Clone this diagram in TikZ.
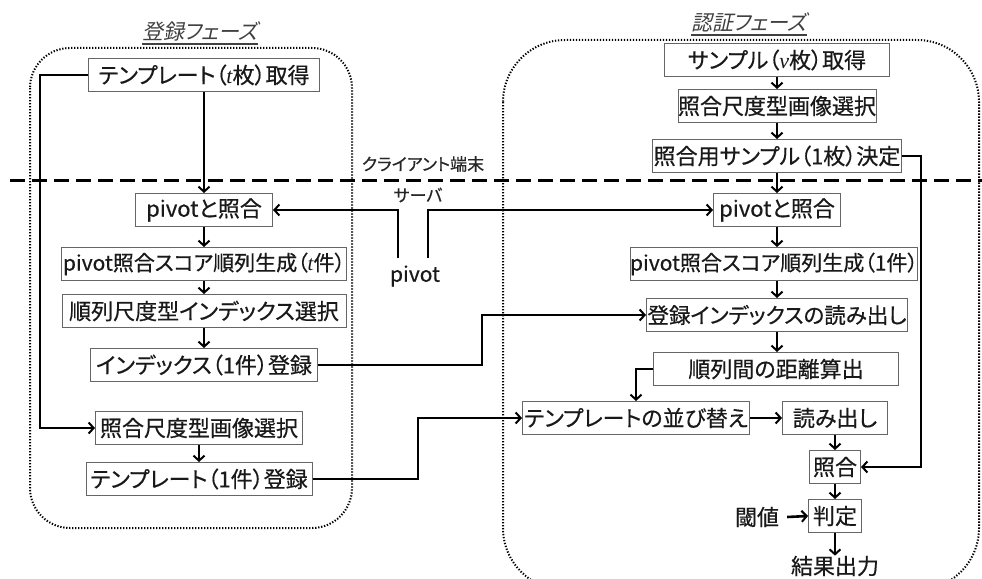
\documentclass[tikz,border=0pt]{standalone}
\usepackage{fontspec}
\setmainfont{Noto Sans CJK JP}[RawFeature=+palt,FakeBold=0.5]
\newfontfamily\jpit{Noto Sans CJK JP}[FakeSlant=0.22,RawFeature=+palt]
\newfontfamily\tms{Liberation Serif}
\usetikzlibrary{arrows.meta}
\newcommand{\vt}[1]{{\tms\itshape #1}}
\begin{document}
\begin{tikzpicture}[x=1pt,y=-1pt,
  box/.style={draw=black!60, line width=1pt, minimum height=33pt, inner sep=0pt, fill=white, text=black!90, font=\fontsize{22}{24}\selectfont},
  lbl/.style={inner sep=0pt, text=black!90, font=\fontsize{22}{24}\selectfont},
  small/.style={inner sep=0pt, text=black!85, font=\fontsize{17}{20}\selectfont},
  ttl/.style={inner sep=0pt, text=black!75, font=\jpit\fontsize{21}{24}\selectfont},
  arr/.style={line width=2.6pt, -{Straight Barb[length=5pt,width=11pt,line width=2pt]}},
  grp/.style={line width=2pt, black, dash pattern=on 1.3pt off 1.7pt, rounded corners=#1},
  sep/.style={line width=3pt, dash pattern=on 15pt off 7pt}]
\useasboundingbox (0,0) rectangle (982,578);
% groups
\draw[grp=40pt] (30,48) rectangle (352,528);
\draw[grp=62pt] (503,40) rectangle (979,590);
% titles
\node[ttl] (t1) at (200,31) {登録フェーズ};
\draw[line width=1.2pt, black!75] (t1.south west) ++(0,3) -- ([yshift=-3pt]t1.south east);
\node[ttl] (t2) at (749,22) {認証フェーズ};
\draw[line width=1.2pt, black!75] (t2.south west) ++(0,3) -- ([yshift=-3pt]t2.south east);
% separator
\coordinate (s1) at (10,180);
\coordinate (s2) at (982,180);
\draw[sep] (s1) -- (s2);
\node[small] (client) at (423,164) {クライアント端末};
\node[small] (server) at (418,195) {サーバ};
\node[lbl, font=\fontsize{21}{22}\selectfont] (pv) at (415,276) {pivot};
% left column
\node[box, minimum width=231] (L1) at (204,75) {テンプレート（\vt{t}枚）取得};
\node[box, minimum width=137] (L2) at (204,210) {pivotと照合};
\node[box, minimum width=285, font=\fontsize{21}{24}\selectfont] (L3) at (204,264) {pivot照合スコア順列生成（\vt{t}件）};
\node[box, minimum width=284] (L4) at (204,311) {順列尺度型インデックス選択};
\node[box, minimum width=227] (L5) at (204,365) {インデックス（1件）登録};
\node[box, minimum width=207] (L6) at (199,428) {照合尺度型画像選択};
\node[box, minimum width=226] (L7) at (199,479) {テンプレート（1件）登録};
% right column
\node[box, minimum width=225] (R1) at (777,60) {サンプル（\vt{v}枚）取得};
\node[box, minimum width=198] (R2) at (777,106) {照合尺度型画像選択};
\node[box, minimum width=249] (R3) at (777,156) {照合用サンプル（1枚）決定};
\node[box, minimum width=127] (R4) at (777,210) {pivotと照合};
\node[box, minimum width=286, font=\fontsize{21}{24}\selectfont] (R5) at (774,264) {pivot照合スコア順列生成（1件）};
\node[box, minimum width=261, font=\fontsize{21.5}{24}\selectfont] (R6) at (777,315) {登録インデックスの読み出し};
\node[box, minimum width=245] (R7) at (776,369) {順列間の距離算出};
\node[box, minimum width=227] (R8) at (636,418) {テンプレートの並び替え};
\node[box, minimum width=105] (R9) at (835,418) {読み出し};
\node[box, minimum width=51] (R10) at (835,467) {照合};
\node[box, minimum width=53] (R11) at (835,516) {判定};
\node[lbl] (thr) at (757,517) {閾値};
\node[lbl] (out) at (835,566) {結果出力};
% left connectors
\draw[arr] (L1.south) -- (L2.north);
\draw[arr] (L2.south) -- (L3.north);
\draw[arr] (L3.south) -- (L4.north);
\draw[arr] (L4.south) -- (L5.north);
\draw[arr] (L6.south) -- (L7.north);
\coordinate (lx) at (40,75);
\draw[arr] (L1.west) -- (lx) |- (L6.west);
% pivot
\coordinate (pa) at (398,258);
\coordinate (pb) at (428,258);
\draw[arr] (pa) |- (L2.east);
\draw[arr] (pb) |- (R4.west);
% cross connectors
\coordinate (c1) at (482,365);
\draw[arr] (L5.east) -- (c1) |- (R6.west);
\coordinate (c2) at (418,479);
\draw[arr] (L7.east) -- (c2) |- (R8.west);
% right connectors
\draw[arr] (R1.south) -- (R2.north);
\draw[arr] (R2.south) -- (R3.north);
\draw[arr] (R3.south) -- (R4.north);
\draw[arr] (R4.south) -- (R4.south |- R5.north);
\draw[arr] (R4.south |- R5.south) -- (R6.north);
\draw[arr] (R6.south) -- (R6.south |- R7.north);
\draw[arr] (R7.west) -| (R8.north);
\draw[arr] (R8.east) -- (R9.west);
\draw[arr] (R9.south) -- (R10.north);
\coordinate (c3) at (921,156);
\draw[arr] (R3.east) -- (c3) |- (R10.east);
\draw[arr] (R10.south) -- (R11.north);
\draw[arr] ([xshift=8pt]thr.east) -- (R11.west);
\draw[arr] (R11.south) -- (out.north);
\end{tikzpicture}
\end{document}
